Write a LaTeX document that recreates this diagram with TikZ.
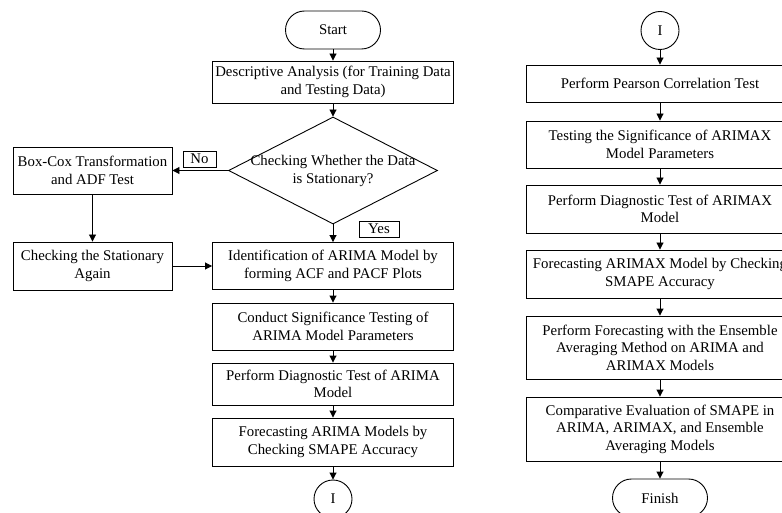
\documentclass[tikz,border=0pt]{standalone}
\usepackage{fontspec}
\setmainfont{Liberation Serif}
\usetikzlibrary{shapes.geometric,arrows.meta}
\begin{document}
\begin{tikzpicture}[x=1pt,y=-1pt,
  every node/.style={font=\fontsize{14.8}{17.5}\selectfont, align=center, inner sep=0pt},
  box/.style={draw, line width=0.9pt, minimum width=241pt},
  rbox/.style={draw, line width=0.9pt, minimum width=268pt},
  term/.style={draw, line width=0.9pt, rounded corners=19pt, minimum width=95pt, minimum height=38pt},
  conn/.style={draw, line width=0.9pt, circle, minimum size=38pt},
  tag/.style={draw, line width=0.8pt},
  arr/.style={line width=0.9pt, -{Triangle[length=7pt,width=7pt]}}
]
\useasboundingbox (0,0) rectangle (782,513);
% left column
\node[term] (start) at (333,30) {Start};
\node[box, minimum height=42pt] (desc) at (333,82) {Descriptive Analysis (for Training Data\\and Testing Data)};
\node[draw, line width=0.9pt, diamond, minimum width=209pt, minimum height=107pt] (dec) at (333,170.5) {};
\node (dectext) at (333,171) {Checking Whether the Data\\is Stationary?};
\node[draw, line width=0.9pt, minimum width=159pt, minimum height=47pt] (boxcox) at (92.5,170.5) {Box-Cox Transformation\\and ADF Test};
\node[draw, line width=0.9pt, minimum width=159pt, minimum height=48pt] (again) at (92.5,266) {Checking the Stationary\\Again};
\node[box, minimum height=47pt] (ident) at (333,266) {Identification of ARIMA Model by\\forming ACF and PACF Plots};
\node[box, minimum height=47pt] (conduct) at (333,326.5) {Conduct Significance Testing of\\ARIMA Model Parameters};
\node[box, minimum height=42pt] (diag) at (333,384) {Perform Diagnostic Test of ARIMA\\Model};
\node[box, minimum height=48pt] (fore) at (333,442) {Forecasting ARIMA Models by\\Checking SMAPE Accuracy};
\node[conn] (c1) at (333,499) {I};
\node[tag, minimum width=33pt, minimum height=16pt] (no) at (199.5,159) {No};
\node[tag, minimum width=40pt, minimum height=16pt] (yes) at (379,229) {Yes};
\draw[arr] (start) -- (desc);
\draw[arr] (desc) -- (dec.north);
\draw[arr] (dec.west) -- (boxcox.east);
\draw[arr] (boxcox) -- (again);
\draw[arr] (again) -- (ident);
\draw[arr] (dec.south) -- (ident);
\draw[arr] (ident) -- (conduct);
\draw[arr] (conduct) -- (diag);
\draw[arr] (diag) -- (fore);
\draw[arr] (fore) -- (c1);
% right column
\node[conn] (c2) at (660,30.5) {I};
\node[rbox, minimum height=37pt] (pearson) at (660,83.5) {Perform Pearson Correlation Test};
\node[rbox, minimum height=47pt] (testx) at (660,144.5) {Testing the Significance of ARIMAX\\Model Parameters};
\node[rbox, minimum height=48pt] (diagx) at (660,209) {Perform Diagnostic Test of ARIMAX\\Model};
\node[rbox, minimum height=48pt] (forex) at (660,274) {Forecasting ARIMAX Model by Checking\\SMAPE Accuracy};
\node[rbox, minimum height=63pt] (ens) at (660,347.5) {Perform Forecasting with the Ensemble\\Averaging Method on ARIMA and\\ARIMAX Models};
\node[rbox, minimum height=64pt] (comp) at (660,429) {Comparative Evaluation of SMAPE in\\ARIMA, ARIMAX, and Ensemble\\Averaging Models};
\node[term] (finish) at (660,498) {Finish};
\draw[arr] (c2) -- (pearson);
\draw[arr] (pearson) -- (testx);
\draw[arr] (testx) -- (diagx);
\draw[arr] (diagx) -- (forex);
\draw[arr] (forex) -- (ens);
\draw[arr] (ens) -- (comp);
\draw[arr] (comp) -- (finish);
\end{tikzpicture}
\end{document}
